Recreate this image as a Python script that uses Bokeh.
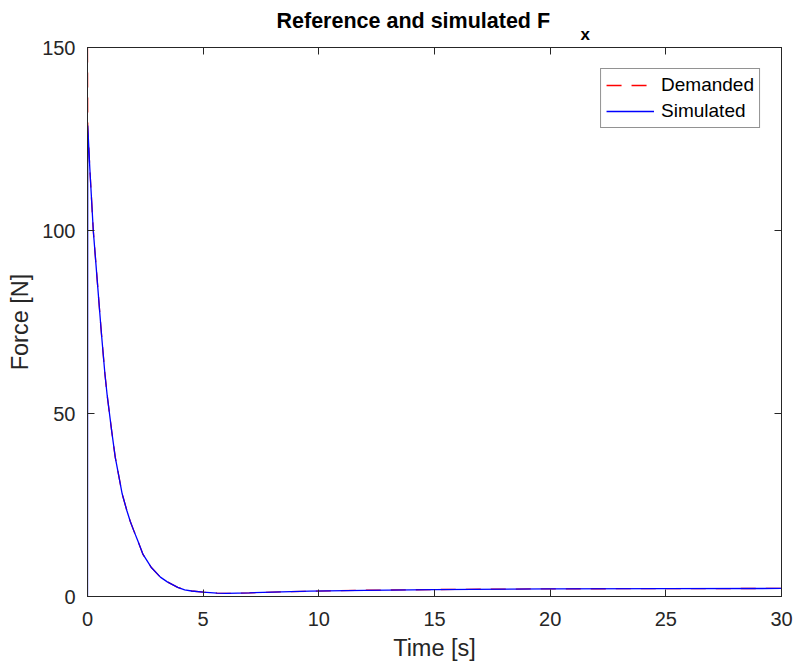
from bokeh.plotting import figure
from bokeh.models import (Range1d, LinearAxis, Title, Legend, LegendItem, FixedTicker,
                          CustomJSTickFormatter)
from bokeh.embed import file_html
from bokeh.resources import INLINE

# ---- data ----
time_s = [0, 0.01, 0.1, 0.25, 0.4, 0.5, 0.6, 0.75, 0.85, 0.95, 1.05, 1.2, 1.35, 1.5,
          1.7, 1.85, 2.0, 2.2, 2.4, 2.75, 3.15, 3.45, 3.9, 4.2, 4.5, 5.0, 5.6, 6.0,
          7.0, 8.0, 9.6, 12, 15, 20, 25, 30]
simulated_N = [0, 128.7, 117, 100, 88, 80, 72, 61, 55, 50, 45, 38, 33, 28,
               23.5, 20.5, 18, 14.8, 11.5, 8.0, 5.3, 4.0, 2.5, 1.8, 1.5, 1.2, 0.9, 0.85,
               1.0, 1.2, 1.45, 1.7, 1.9, 2.1, 2.15, 2.2]
demanded_N = [150, 128.7, 117, 100, 88, 80, 72, 61, 55, 50, 45, 38, 33, 28,
              23.5, 20.5, 18, 14.8, 11.5, 8.0, 5.3, 4.0, 2.5, 1.8, 1.5, 1.2, 0.9, 0.85,
              1.0, 1.2, 1.45, 1.7, 1.9, 2.1, 2.15, 2.2]
x_ticks = [0, 5, 10, 15, 20, 25, 30]
y_ticks = [0, 50, 100, 150]
series_names = ["Demanded", "Simulated"]
title_main = "Reference and simulated F"
title_sub = "x"
x_label = "Time [s]"
y_label = "Force [N]"

FONT = "Liberation Sans"
DARK = "#262626"

p = figure(width=795, height=666, output_backend="svg", toolbar_location=None,
           x_range=Range1d(0, 30), y_range=Range1d(0, 150),
           min_border_left=87, min_border_right=14, min_border_top=47,
           min_border_bottom=70)
p.title_location = None
p.grid.visible = False
p.outline_line_color = DARK
p.outline_line_width = 1
p.background_fill_color = "white"
p.border_fill_color = "white"

r1 = p.line(time_s, demanded_N, line_color="red", line_dash="15 10", line_width=1.3)
r2 = p.line(time_s, simulated_N, line_color="blue", line_width=1.3)


def style(ax, ticks, show_labels=True):
    ax.ticker = FixedTicker(ticks=ticks)
    ax.major_tick_in = 7
    ax.major_tick_out = 0
    ax.minor_tick_line_color = None
    ax.axis_line_color = DARK
    ax.major_tick_line_color = DARK
    ax.major_label_text_font = FONT
    ax.major_label_text_color = DARK
    if show_labels:
        ax.major_label_text_font_size = "20px"
    else:
        ax.formatter = CustomJSTickFormatter(code="return ''")
        ax.major_label_text_font_size = "1px"
        ax.major_label_standoff = 0
    ax.axis_label_text_font = FONT
    ax.axis_label_text_font_style = "normal"
    ax.axis_label_text_color = DARK
    ax.axis_label_text_font_size = "23.5px"


style(p.xaxis[0], x_ticks)
p.xaxis[0].major_label_standoff = 15

style(p.yaxis[0], y_ticks)
p.yaxis[0].axis_label = y_label
p.yaxis[0].major_label_standoff = 12
p.yaxis[0].axis_label_standoff = 6

top = LinearAxis()
style(top, x_ticks, show_labels=False)
p.add_layout(top, "above")
right = LinearAxis()
style(right, y_ticks, show_labels=False)
p.add_layout(right, "right")

legend = Legend(items=[LegendItem(label=series_names[0], renderers=[r1]),
                       LegendItem(label=series_names[1], renderers=[r2])],
                location="top_right")
legend.margin = 21
legend.padding = 5
legend.spacing = 4
legend.glyph_width = 48
legend.glyph_height = 20
legend.label_height = 20
legend.label_standoff = 7
legend.label_text_font = FONT
legend.label_text_font_size = "19px"
legend.label_text_color = "black"
legend.border_line_color = DARK
legend.border_line_width = 1
legend.background_fill_color = "white"
legend.background_fill_alpha = 1
p.add_layout(legend)

# x-axis label as a title below the tick labels
t_xlab = Title(text=x_label, align="center", vertical_align="bottom", standoff=8,
               text_font=FONT, text_font_style="normal", text_font_size="23.5px",
               text_color=DARK)
p.add_layout(t_xlab, "below")

# subscript (closest to the frame), then main title (outer, pulled down)
t_sub = Title(text=title_sub, align="left", offset=493, vertical_align="bottom",
              standoff=8, text_font=FONT, text_font_style="bold",
              text_font_size="17px", text_color="black")
p.add_layout(t_sub, "above")
t_main = Title(text=title_main, align="left", offset=189, vertical_align="bottom",
               standoff=-28, text_font=FONT, text_font_style="bold",
               text_font_size="21.5px", text_color="black")
p.add_layout(t_main, "above")

open("out.html", "w").write(file_html(p, INLINE))
